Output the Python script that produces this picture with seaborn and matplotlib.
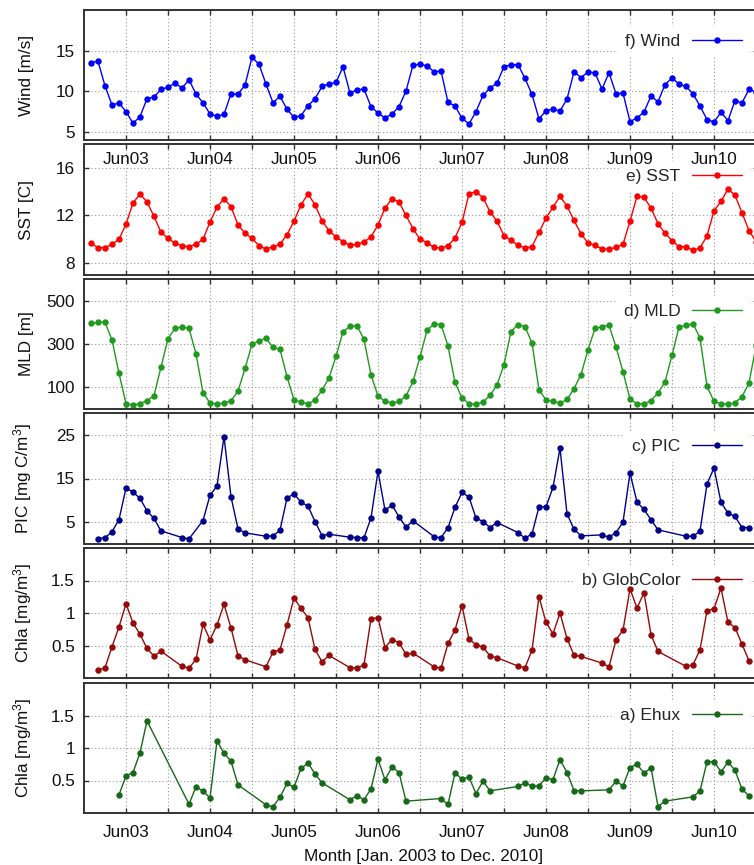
import numpy as np
import pandas as pd
import matplotlib
matplotlib.use("Agg")
import matplotlib.pyplot as plt
import seaborn as sns

NA = None

# Monthly series, Jan 2003 (index 0) to Dec 2010 (index 95); None = no data
months = np.arange(96)
jun_labels = ["Jun03", "Jun04", "Jun05", "Jun06", "Jun07", "Jun08", "Jun09", "Jun10"]

wind = [13.53, 13.69, 10.67, 8.31, 8.55, 7.49, 6.06, 6.88, 9.08, 9.29, 10.22, 10.51,
        11.0, 10.39, 11.41, 9.65, 8.59, 7.2, 6.92, 7.16, 9.69, 9.65, 10.76, 14.18,
        13.33, 10.88, 8.59, 9.37, 7.78, 6.8, 7.0, 8.22, 9.08, 10.59, 10.92, 11.08,
        13.0, 9.78, 10.18, 10.27, 8.1, 7.33, 6.71, 7.2, 8.1, 10.02, 13.24, 13.33,
        13.12, 12.39, 12.51, 8.63, 8.18, 6.67, 5.98, 7.49, 9.49, 10.39, 11.0, 13.04,
        13.24, 13.29, 11.57, 9.61, 6.59, 7.61, 7.82, 7.57, 9.04, 12.39, 11.69, 12.35,
        12.27, 10.27, 12.27, 9.69, 9.78, 6.27, 6.71, 7.45, 9.41, 8.71, 10.8, 11.65,
        10.88, 10.59, 9.69, 8.18, 6.51, 6.22, 7.41, 6.39, 8.84, 8.59, 10.22, 9.9]

sst = [9.66, 9.30, 9.30, 9.58, 10.0, 11.27, 13.04, 13.8, 13.13, 11.92, 10.59, 10.08,
       9.66, 9.46, 9.38, 9.58, 10.0, 11.44, 12.7, 13.41, 12.73, 11.21, 10.51, 10.08,
       9.46, 9.18, 9.38, 9.58, 10.39, 11.52, 12.9, 13.8, 12.9, 11.55, 10.73, 10.2,
       9.8, 9.49, 9.58, 9.77, 10.2, 11.2, 12.62, 13.41, 13.13, 12.0, 10.9, 10.0,
       9.72, 9.32, 9.27, 9.46, 10.11, 11.41, 13.83, 14.0, 13.49, 12.31, 11.52, 10.31,
       9.92, 9.49, 9.30, 9.38, 10.59, 11.77, 12.7, 13.61, 12.79, 11.58, 10.45, 9.69,
       9.49, 9.18, 9.18, 9.32, 9.58, 11.52, 13.61, 13.52, 12.62, 11.32, 10.51, 9.89,
       9.38, 9.38, 9.07, 9.27, 10.28, 12.39, 13.18, 14.23, 13.69, 12.23, 10.73, 9.8]

mld = [395, 400, 400, 319, 165, 25, 19, 25, 39, 62, 193, 325,
       372, 378, 372, 255, 76, 27, 24, 27, 38, 82, 187, 299,
       314, 327, 284, 275, 149, 42, 32, 24, 42, 86, 144, 243,
       357, 381, 384, 321, 158, 59, 36, 27, 35, 60, 127, 240,
       363, 392, 390, 291, 123, 51, 24, 22, 32, 63, 111, 205,
       357, 390, 380, 304, 89, 42, 35, 27, 44, 94, 159, 273,
       372, 380, 387, 286, 173, 45, 24, 24, 39, 74, 124, 248,
       378, 386, 394, 328, 105, 35, 25, 22, 29, 57, 120, 290]

pic = [NA, 1.25, 1.48, 2.78, 5.61, 12.8, 11.9, 10.44, 7.6, 5.84, 3.0, NA,
       NA, 1.48, 1.17, NA, 5.38, 11.13, 13.28, 24.6, 10.82, 3.47, 2.55, NA,
       NA, 1.78, 1.86, 3.16, 10.52, 11.51, 9.6, 8.68, 5.15, 1.93, 2.24, NA,
       NA, 1.55, 1.48, 1.4, 6.0, 16.65, 7.76, 8.9, 6.23, 3.85, 5.31, NA,
       NA, 1.7, 1.4, 3.77, 8.37, 11.82, 10.75, 5.92, 5.15, 3.77, 4.92, NA,
       NA, 2.62, 1.32, 2.32, 8.52, 8.52, 12.97, 21.93, 6.92, 3.39, 1.86, NA,
       NA, 2.09, 1.55, 2.62, 5.0, 16.26, 9.6, 7.91, 5.54, 3.24, NA, NA,
       NA, 1.78, 1.78, 2.93, 13.74, 17.41, 9.52, 7.07, 6.3, 3.77, 3.77, NA]

globcolor = [NA, 0.117, 0.158, 0.48, 0.786, 1.143, 0.847, 0.673, 0.454, 0.337, 0.413, NA,
             NA, 0.179, 0.153, 0.286, 0.827, 0.587, 0.816, 1.133, 0.77, 0.342, 0.281, NA,
             NA, 0.173, 0.398, 0.434, 0.816, 1.23, 1.071, 0.929, 0.439, 0.25, 0.347, NA,
             NA, 0.158, 0.158, 0.199, 0.913, 0.929, 0.469, 0.592, 0.546, 0.362, 0.383, NA,
             NA, 0.173, 0.148, 0.531, 0.74, 1.112, 0.597, 0.515, 0.474, 0.342, 0.311, NA,
             NA, 0.184, 0.158, 0.429, 1.25, 0.857, 0.679, 1.0, 0.607, 0.352, 0.332, NA,
             NA, 0.23, 0.173, 0.587, 0.735, 1.372, 1.077, 1.311, 0.668, 0.408, NA, NA,
             NA, 0.179, 0.204, 0.434, 1.036, 1.066, 1.383, 0.857, 0.776, 0.52, 0.265, NA]

ehux = [NA, NA, NA, NA, 0.279, 0.572, 0.623, 0.926, 1.418, NA, NA, NA,
        NA, NA, 0.136, 0.403, 0.336, 0.233, 1.11, 0.92, 0.797, 0.433, NA, NA,
        NA, 0.126, 0.095, 0.244, 0.454, 0.397, 0.685, 0.767, 0.603, 0.464, NA, NA,
        NA, 0.203, 0.269, 0.203, 0.372, 0.828, 0.51, 0.71, 0.623, 0.182, NA, NA,
        NA, NA, 0.223, 0.131, 0.618, 0.521, 0.551, 0.3, 0.49, 0.341, NA, NA,
        NA, 0.408, 0.464, 0.413, 0.418, 0.541, 0.515, 0.823, 0.623, 0.346, 0.341, NA,
        NA, NA, 0.356, 0.49, 0.418, 0.7, 0.751, 0.613, 0.695, 0.1, 0.182, NA,
        NA, NA, 0.249, 0.341, 0.787, 0.792, 0.633, 0.782, 0.659, 0.367, 0.262, NA]

sns.set_theme(style="white")
plt.rcParams["font.family"] = ["Liberation Sans", "DejaVu Sans"]
plt.rcParams["mathtext.fontset"] = "custom"
plt.rcParams["mathtext.rm"] = "Liberation Sans"
plt.rcParams["mathtext.it"] = "Liberation Sans:italic"
plt.rcParams["mathtext.bf"] = "Liberation Sans:bold"

W, H = 754, 865
FS = 12.3
fig = plt.figure(figsize=(W / 100, H / 100), dpi=100)
fig.patch.set_facecolor("white")

# (series, colour, y label, key text, y limits, y ticks, tick labels, panel top/bottom px, key centre px)
panels = [
    (wind, "#0000ff", "Wind [m/s]", "f) Wind", (4, 20), [5, 10, 15], ["5", "10", "15"], (10, 140), 41.7),
    (sst, "#ff0000", "SST [C]", "e) SST", (7, 18), [8, 12, 16], ["8", "12", "16"], (144, 275), 176.7),
    (mld, "#1f9a1f", "MLD [m]", "d) MLD", (0, 600), [100, 300, 500], ["100", "300", "500"], (279, 409), 311.7),
    (pic, "#00008b", "PIC [mg C/m$^3$]", "c) PIC", (0, 30), [5, 15, 25], ["5", "15", "25"], (413, 544), 446.7),
    (globcolor, "#960a0a", "Chla [mg/m$^3$]", "b) GlobColor", (0, 2), [0.5, 1, 1.5], ["0.5", "1", "1.5"], (548, 678), 580.7),
    (ehux, "#17691a", "Chla [mg/m$^3$]", "a) Ehux", (0, 2), [0.5, 1, 1.5], ["0.5", "1", "1.5"], (683, 813), 715.0),
]

xticks = list(range(5, 96, 6))
xticklabels = [jun_labels[i // 2] if i % 2 == 0 else "" for i in range(len(xticks))]
frame_col = "#333333"

for idx, (vals, col, ylab, key, ylim, yt, ytl, (top, bot), key_y) in enumerate(panels):
    ax = fig.add_axes([84 / W, 1 - bot / H, 679 / W, (bot - top) / H])
    ax.set_facecolor("none")
    if idx == 0:
        # the top panel's month labels sit inside the panel below, keep them on top
        ax.set_zorder(3)
    df = pd.DataFrame({"month": months, "value": pd.to_numeric(pd.Series(vals), errors="coerce")}).dropna()
    sns.lineplot(data=df, x="month", y="value", ax=ax, color=col, marker="o",
                 markersize=4.6, markeredgewidth=0, linewidth=1.0, label=key,
                 estimator=None, errorbar=None, sort=True)
    ax.set_xlim(-1, 96)
    ax.set_ylim(*ylim)
    ax.set_yticks(yt)
    ax.set_yticklabels(ytl)
    ax.set_xticks(xticks)
    show_x = idx in (0, len(panels) - 1)
    ax.set_xticklabels(xticklabels if show_x else [""] * len(xticks))
    ax.tick_params(axis="both", direction="in", length=3.6, width=1.0, color=frame_col,
                   top=True, right=True, bottom=True, left=True,
                   labelsize=FS, labelcolor="#111111", labelbottom=show_x)
    ax.tick_params(axis="x", pad=8.5)
    ax.tick_params(axis="y", pad=6.5)
    ax.set_axisbelow(True)
    ax.grid(True, color="#9a9a9a", linestyle=(0, (1, 2.2)), linewidth=0.8)
    for sp in ax.spines.values():
        sp.set_color(frame_col)
        sp.set_linewidth(1.4)
    ax.set_ylabel(ylab, fontsize=FS, color="#111111")
    ax.yaxis.set_label_coords(-0.074, 0.5)
    if idx == len(panels) - 1:
        ax.set_xlabel("Month [Jan. 2003 to Dec. 2010]", fontsize=FS, color="#111111")
        ax.xaxis.set_label_coords(0.5, -0.275)
    else:
        ax.set_xlabel("")
    handles, labels = ax.get_legend_handles_labels()
    leg = ax.legend(handles[:1], labels[:1], loc="center right",
                    bbox_to_anchor=(750 / W, 1 - key_y / H), bbox_transform=fig.transFigure,
                    markerfirst=False, handlelength=2.9, handletextpad=0.65,
                    borderpad=0.45, borderaxespad=0, frameon=True, fancybox=False,
                    framealpha=1, edgecolor="none", facecolor="white", fontsize=12.5)
    leg.set_zorder(1.8)

fig.savefig("out.png", dpi=100)
